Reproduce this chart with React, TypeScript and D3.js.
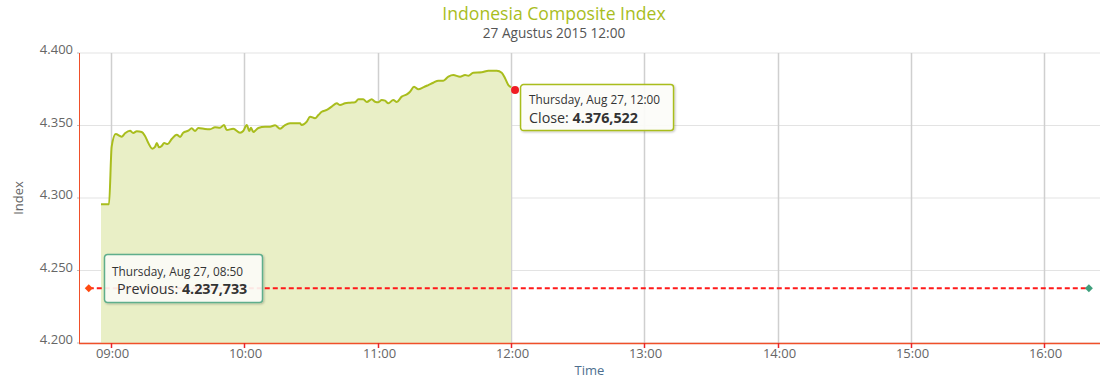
import React from "react";
import * as d3 from "d3";

// minutes after 09:00 on 27 Aug 2015
const minutesAfter0900 = [
  -4.5, -0.9, 0.3, 2.1, 4.8, 6.3, 8.55, 10.0, 11.6, 13.8, 15.3, 16.8, 18.6, 19.8, 20.6, 21.6, 22.8, 23.9, 25.5, 27.3, 29.6, 31.1, 32.5, 34.8, 36.3, 37.8, 39.3, 42.3,
  44.55, 46.8, 49.05, 50.85, 52.1, 55.0, 58.05, 59.5, 61.1, 62.2, 63.0, 64.0, 66.3, 69.3, 71.55, 73.8, 76.05, 78.3, 80.55, 85.05, 85.8, 88.1, 89.55,
  91.8, 93.3, 94.8, 97.1, 99.3, 101.6, 103.05, 105.3, 107.55, 109.8, 111.3, 113.5, 115.1, 117.3, 118.8, 120.3, 121.8, 123.3, 124.8, 127.0, 128.6, 130.8, 133.1, 134.55,
  136.35, 138.3, 140.5, 142.8, 145.0, 147.3, 149.5, 151.8, 154.0, 157.05, 159.3, 160.8, 163.0, 166.8, 169.8, 173.6, 175.8, 177.3, 178.8, 180,
];
const indexValues = [
  4295.7, 4295.7, 4335.4, 4344.1, 4342.3, 4344.6, 4346.4, 4344.8, 4346.0, 4345.5, 4342.8, 4337.9, 4334.0, 4335.2, 4337.9, 4335.0, 4335.9, 4337.9, 4337.2, 4340.7, 4343.7, 4342.1, 4345.0, 4346.4, 4348.1, 4346.2, 4348.3, 4347.6,
  4347.4, 4348.8, 4348.5, 4350.3, 4346.9, 4347.8, 4345.0, 4346.2, 4350.3, 4346.2, 4348.5, 4345.5, 4348.3, 4349.2, 4349.2, 4350.1, 4347.8, 4350.3, 4351.5, 4351.5, 4350.3, 4352.6, 4356.1,
  4355.0, 4357.2, 4359.5, 4360.7, 4363.0, 4365.3, 4364.1, 4365.3, 4365.7, 4366.0, 4368.1, 4368.1, 4366.2, 4368.1, 4366.4, 4366.0, 4367.6, 4367.1, 4365.3, 4367.6, 4366.2, 4369.9, 4371.5, 4373.3,
  4376.8, 4375.0, 4376.3, 4377.9, 4379.5, 4380.9, 4380.9, 4383.7, 4384.8, 4383.7, 4384.8, 4384.3, 4386.4, 4386.7, 4387.8, 4387.8, 4386.4, 4382.6, 4377.9, 4376.5,
];

const previousClose = 4237.733;
const closeValue = 4376.522;
const previousStartMin = -10; // 08:50
const previousEndMin = 440; // 16:20
const yTicks = [4200, 4250, 4300, 4350, 4400];
const xTickHours = [9, 10, 11, 12, 13, 14, 15, 16];

const titleText = "Indonesia Composite Index";
const subtitleText = "27 Agustus 2015 12:00";
const prevTipDate = "Thursday, Aug 27, 08:50";
const closeTipDate = "Thursday, Aug 27, 12:00";

const FONT = "'Open Sans', 'DejaVu Sans', sans-serif";
const base = new Date(2015, 7, 27, 9, 0, 0);
const toDate = (m: number) => new Date(base.getTime() + m * 60000);

const fmtIdx = (v: number) => {
  const s = v.toFixed(3);
  const [i, f] = s.split(".");
  const ii = i.replace(/\B(?=(\d{3})+(?!\d))/g, ".");
  return ii + "," + f;
};
const fmtTick = (v: number) => String(v).replace(/\B(?=(\d{3})+(?!\d))/g, ".");

export default function App() {
  const W = 1111, H = 377;
  const left = 79, right = 1100, top = 53, bottom = 343;

  const x = d3.scaleTime()
    .domain([toDate(-14.4), toDate(445)])
    .range([left, right]);
  const y = d3.scaleLinear().domain([4200, 4400]).range([bottom, top]);

  const data = minutesAfter0900.map((m, i) => ({ t: toDate(m), v: indexValues[i] }));
  const line = d3.line<{ t: Date; v: number }>().x(d => x(d.t)).y(d => y(d.v)).curve(d3.curveMonotoneX);
  const area = d3.area<{ t: Date; v: number }>().x(d => x(d.t)).y0(y(4200)).y1(d => y(d.v)).curve(d3.curveMonotoneX);

  const green = "#a9bd1d";
  const axisRed = "#f0502a";
  const yPrev = y(previousClose);
  const last = data[data.length - 1];
  const lx = x(last.t), ly = y(last.v);

  const diamond = (cx: number, cy: number, r: number) =>
    `M${cx},${cy - r}L${cx + r},${cy}L${cx},${cy + r}L${cx - r},${cy}Z`;

  return (
    <svg width={W} height={H} style={{ position: "absolute", left: 0, top: 0, background: "#fff" }} fontFamily={FONT}>
      <defs>
        <filter id="sh" x="-10%" y="-10%" width="130%" height="140%">
          <feDropShadow dx="1" dy="1" stdDeviation="1.2" floodColor="#000" floodOpacity="0.25" />
        </filter>
      </defs>
      <rect x={0} y={0} width={W} height={H} fill="#fff" />
      <text x={554} y={20} textAnchor="middle" fontSize={17.6} fill={green}>{titleText}</text>
      <text x={554} y={38} textAnchor="middle" fontSize={13.6} fill="#555">{subtitleText}</text>

      {/* horizontal grid */}
      {yTicks.map(t => (
        <line key={"h" + t} x1={left} x2={right} y1={y(t)} y2={y(t)} stroke="#e3e3e3" strokeWidth={1} />
      ))}
      {/* vertical grid */}
      {xTickHours.map(h => {
        const xx = Math.round(x(toDate((h - 9) * 60))) + 0.5;
        return <line key={"v" + h} x1={xx} x2={xx} y1={top} y2={bottom} stroke="#cfcfcf" strokeWidth={1.5} />;
      })}

      {/* area & line */}
      <path d={area(data) || ""} fill="#e9efc6" />
      <path d={line(data) || ""} fill="none" stroke={green} strokeWidth={2} strokeLinejoin="round" />

      {/* previous close dashed line */}
      <line x1={x(toDate(previousStartMin))} x2={x(toDate(previousEndMin))} y1={yPrev} y2={yPrev}
        stroke="#ff1a1a" strokeWidth={2} strokeDasharray="5,3" />
      <path d={diamond(x(toDate(previousStartMin)), yPrev, 4)} fill="#ff4a10" />
      <path d={diamond(x(toDate(previousEndMin)), yPrev, 4)} fill="#3f9f7c" />

      {/* axes */}
      <line x1={left + 0.5} x2={left + 0.5} y1={top} y2={bottom} stroke={axisRed} strokeWidth={1} />
      <line x1={left} x2={right} y1={bottom + 0.5} y2={bottom + 0.5} stroke={axisRed} strokeWidth={1.5} />
      {yTicks.map(t => (
        <g key={"yl" + t}>
          <line x1={left - 2} x2={left} y1={y(t)} y2={y(t)} stroke="#bbb" />
          <text x={73} y={y(t) + 1} textAnchor="end" fontSize={13} fill="#666">{fmtTick(t)}</text>
        </g>
      ))}
      {xTickHours.map(h => {
        const xx = Math.round(x(toDate((h - 9) * 60))) + 0.5;
        return (
          <g key={"xl" + h}>
            <line x1={xx} x2={xx} y1={bottom} y2={bottom + 5} stroke="#e8262a" strokeWidth={1.5} />
            <text x={xx + 1} y={358} textAnchor="middle" fontSize={13} fill="#666">
              {String(h).padStart(2, "0") + ":00"}
            </text>
          </g>
        );
      })}
      <text x={(left + right) / 2} y={374.5} textAnchor="middle" fontSize={13} fill="#4d6f8f">Time</text>
      <text transform={`translate(23,${(top + bottom) / 2}) rotate(-90)`} textAnchor="middle" fontSize={13} fill="#666">Index</text>

      {/* close marker */}
      <circle cx={lx + 4} cy={ly + 3} r={4} fill="#f01c24" />

      {/* close tooltip */}
      <g transform={`translate(${lx + 9},${ly - 3})`}>
        <rect x={0.5} y={0.5} width={153} height={46} rx={3} fill="rgba(255,255,252,0.9)" stroke={green} strokeWidth={1.5} filter="url(#sh)" />
        <text x={9} y={20} fontSize={11.8} fill="#333">{closeTipDate}</text>
        <text x={9} y={38.5} fontSize={14.3} fill="#333">
          Close: <tspan fontWeight="bold">{fmtIdx(closeValue)}</tspan>
        </text>
      </g>

      {/* previous tooltip */}
      <g transform={`translate(104,254)`}>
        <rect x={0.5} y={0.5} width={158} height={48} rx={3} fill="rgba(255,255,252,0.88)" stroke="#5fae8c" strokeWidth={1.5} filter="url(#sh)" />
        <text x={8} y={21.5} fontSize={11.8} fill="#333">{prevTipDate}</text>
        <text x={13} y={40} fontSize={14.3} fill="#333">
          Previous: <tspan fontWeight="bold">{fmtIdx(previousClose)}</tspan>
        </text>
      </g>
    </svg>
  );
}
